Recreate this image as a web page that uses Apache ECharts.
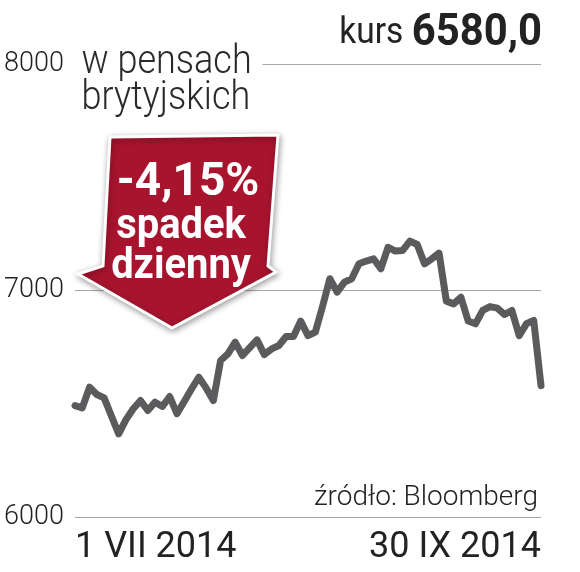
<!DOCTYPE html>
<html>
<head>
<meta charset="utf-8">
<script src="https://cdn.jsdelivr.net/npm/echarts@6/dist/echarts.min.js"></script>
<style>
  html, body { margin: 0; padding: 0; background: #fff; }
  #chart { width: 580px; height: 572px; }
</style>
</head>
<body>
<div id="chart"></div>
<script>
// kurs w pensach, sesje 1 VII – 30 IX 2014
const prices = [
  6492, 6482, 6573, 6541, 6526, 6446, 6367, 6430, 6478, 6514,
  6470, 6507, 6488, 6532, 6456, 6510, 6565, 6617, 6570, 6514,
  6691, 6720, 6772, 6713, 6748, 6782, 6717, 6742, 6757, 6797,
  6797, 6865, 6801, 6816, 6930, 7052, 6993, 7037, 7052, 7118,
  7130, 7140, 7096, 7191, 7174, 7177, 7218, 7203, 7118, 7140,
  7165, 6953, 6941, 6970, 6865, 6853, 6912, 6929, 6922, 6894,
  6912, 6801, 6853, 6868, 6580
];
const xTickLabels = ["1 VII 2014", "30 IX 2014"];
const yTicks = [6000, 7000, 8000];
const unitTitle = ["w pensach", "brytyjskich"];
const lastPrice = "6580,0";
const changeText = ["-4,15%", "spadek", "dzienny"];
const sourceText = "źródło: Bloomberg";

const chart = echarts.init(document.getElementById("chart"));
const days = prices.map((p, i) => i);
const last = prices.length - 1;
const red = "#a8142e";

const option = {
  animation: false,
  backgroundColor: "#fff",
  grid: { left: 75, right: 39, top: 64, bottom: 55 },
  xAxis: {
    type: "category",
    data: days,
    boundaryGap: false,
    axisLine: { show: false },
    axisTick: { show: false },
    splitLine: { show: false },
    axisLabel: {
      interval: (i) => i === 0 || i === last,
      formatter: (v, i) => (i === 0 ? xTickLabels[0] : xTickLabels[1]),
      alignMinLabel: "left",
      alignMaxLabel: "right",
      margin: 13,
      fontSize: 36,
      fontFamily: "Roboto",
      color: "#222"
    }
  },
  yAxis: {
    type: "value",
    min: yTicks[0],
    max: yTicks[yTicks.length - 1],
    interval: 1000,
    axisLine: { show: false },
    axisTick: { show: false },
    axisLabel: {
      margin: 11,
      fontSize: 27,
      fontFamily: "Roboto",
      fontWeight: 300,
      color: "#222",
      formatter: (v) => String(v)
    },
    splitLine: { lineStyle: { color: "#a8a8a8", width: 1.2 } }
  },
  series: [
    {
      type: "line",
      data: prices,
      symbol: "none",
      lineStyle: { color: "#5b5b5d", width: 7, join: "round", cap: "round" },
      z: 3
    }
  ],
  graphic: [
    {
      type: "text",
      x: 68,
      y: 45,
      scaleX: 0.9,
      z: 100,
      style: {
        text: unitTitle.join("\n"),
        font: "300 40px Roboto",
        lineHeight: 36,
        fill: "#2a2a2a",
        backgroundColor: "#fff",
        padding: [0, 12, 0, 15]
      }
    },
    {
      type: "text",
      x: 542,
      y: 56,
      scaleX: 0.93,
      z: 100,
      style: {
        rich: {
          k: { font: "400 36px Roboto", fill: "#222" },
          b: { font: "bold 45px Roboto", fill: "#222" }
        },
        text: "{k|kurs }{b|" + lastPrice + "}",
        align: "right",
        verticalAlign: "bottom",
        fill: "#222"
      }
    },
    {
      type: "polygon",
      z: 90,
      shape: {
        points: [
          [110, 137], [278, 135], [268, 266], [276, 272],
          [172, 328], [78, 274], [103, 266]
        ]
      },
      style: {
        fill: red,
        stroke: "#fff",
        lineWidth: 3,
        shadowBlur: 6,
        shadowColor: "rgba(0,0,0,0.35)",
        shadowOffsetX: 1,
        shadowOffsetY: 2
      }
    },
    {
      type: "text",
      x: 188,
      y: 160,
      z: 100,
      style: {
        text: changeText[0],
        font: "bold 46px Roboto",
        fill: "#fff",
        align: "center",
        verticalAlign: "top"
      }
    },
    {
      type: "text",
      x: 181,
      y: 207,
      scaleX: 0.95,
      z: 100,
      style: {
        text: changeText[1] + "\n" + changeText[2],
        font: "bold 42px Roboto",
        lineHeight: 40,
        fill: "#fff",
        align: "center",
        verticalAlign: "top"
      }
    },
    {
      type: "text",
      x: 538,
      y: 512,
      z: 100,
      style: {
        text: sourceText,
        font: "300 28px Roboto",
        fill: "#222",
        align: "right",
        verticalAlign: "bottom"
      }
    }
  ]
};

chart.setOption(option);
</script>
</body>
</html>
